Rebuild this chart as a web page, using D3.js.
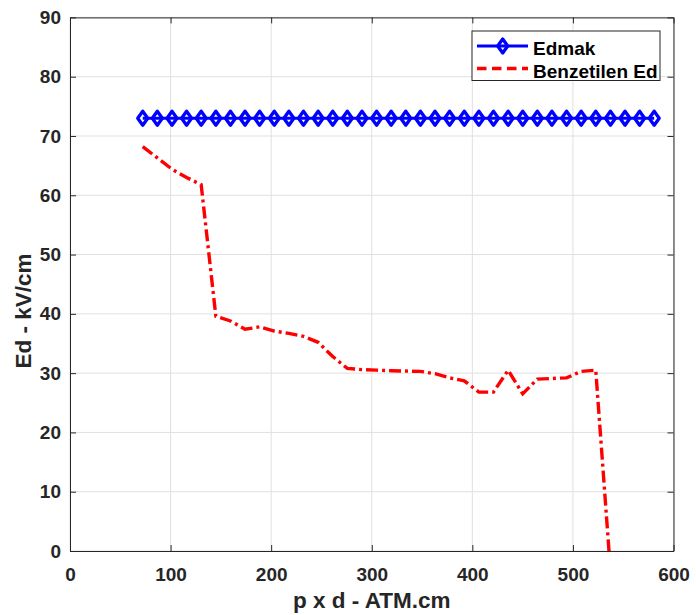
<!DOCTYPE html>
<html>
<head>
<meta charset="utf-8">
<script src="https://cdn.jsdelivr.net/npm/d3@7"></script>
<style>
  html, body { margin: 0; padding: 0; background: #fff; }
  svg { display: block; font-family: "Liberation Sans", Arial, sans-serif; }
</style>
</head>
<body>
<svg id="chart" width="696" height="615"></svg>
<script>
// ---- data ----
const pdValues = [72.3, 86.8, 101.4, 115.9, 130.4, 145.0, 159.5, 174.0, 188.5, 203.1,
  217.6, 232.1, 246.7, 261.2, 275.7, 290.3, 304.8, 319.3, 333.8, 348.4,
  362.9, 377.4, 392.0, 406.5, 421.0, 435.6, 450.1, 464.6, 479.1, 493.7,
  508.2, 522.7, 537.3, 551.8, 566.3, 580.8];
const edmak = [73, 73, 73, 73, 73, 73, 73, 73, 73, 73,
  73, 73, 73, 73, 73, 73, 73, 73, 73, 73,
  73, 73, 73, 73, 73, 73, 73, 73, 73, 73,
  73, 73, 73, 73, 73, 73];
const simPd = [72.3, 86.8, 101.4, 115.9, 130.4, 145.0, 159.5, 174.0, 188.5, 203.1,
  217.6, 232.1, 246.7, 261.2, 275.7, 290.3, 304.8, 319.3, 333.8, 348.4,
  362.9, 377.4, 392.0, 406.5, 421.0, 435.6, 450.1, 464.6, 479.1, 493.7,
  508.2, 522.7, 537.3];
const benzetilenEd = [68.2, 66.3, 64.4, 63.0, 61.8, 39.6, 38.8, 37.4, 37.8, 37.1,
  36.7, 36.2, 35.2, 32.8, 30.8, 30.6, 30.5, 30.4, 30.35, 30.3,
  29.9, 29.2, 28.7, 26.8, 26.8, 30.5, 26.5, 29.0, 29.1, 29.2,
  30.3, 30.5, -3.3];
const xTicks = [0, 100, 200, 300, 400, 500, 600];
const yTicks = [0, 10, 20, 30, 40, 50, 60, 70, 80, 90];
const seriesNames = ["Edmak", "Benzetilen Ed"];
const xTitle = "p x d - ATM.cm";
const yTitle = "Ed - kV/cm";

// ---- layout ----
const W = 696, H = 615;
const m = { left: 70, right: 22.5, top: 17.4, bottom: 64 };
const iw = W - m.left - m.right, ih = H - m.top - m.bottom;
const axisColor = "#262626", gridColor = "#e0e0e0";

const svg = d3.select("#chart");
const x = d3.scaleLinear().domain([0, 600]).range([m.left, m.left + iw]);
const y = d3.scaleLinear().domain([0, 90]).range([m.top + ih, m.top]);

svg.append("defs").append("clipPath").attr("id", "clip")
  .append("rect").attr("x", m.left).attr("y", m.top).attr("width", iw).attr("height", ih);

// grid
const grid = svg.append("g");
grid.selectAll("line.gx").data(xTicks).join("line")
  .attr("x1", d => x(d)).attr("x2", d => x(d))
  .attr("y1", m.top).attr("y2", m.top + ih)
  .attr("stroke", gridColor).attr("stroke-width", 1);
grid.selectAll("line.gy").data(yTicks).join("line")
  .attr("y1", d => y(d)).attr("y2", d => y(d))
  .attr("x1", m.left).attr("x2", m.left + iw)
  .attr("stroke", gridColor).attr("stroke-width", 1);

// axes
const tickFont = (g) => g.selectAll("text")
  .attr("font-size", 19).attr("font-weight", "bold").attr("fill", axisColor)
  .attr("font-family", "'Liberation Sans', Arial, sans-serif");

const xAxis = svg.append("g").attr("transform", `translate(0,${m.top + ih})`)
  .call(d3.axisBottom(x).tickValues(xTicks).tickFormat(d3.format("d")).tickSizeInner(-6).tickSizeOuter(0).tickPadding(17));
xAxis.call(tickFont);
xAxis.select(".domain").attr("stroke", axisColor);
xAxis.selectAll(".tick line").attr("stroke", axisColor);

const yAxis = svg.append("g").attr("transform", `translate(${m.left},0)`)
  .call(d3.axisLeft(y).tickValues(yTicks).tickFormat(d3.format("d")).tickSizeInner(-6).tickSizeOuter(0).tickPadding(9));
yAxis.call(tickFont);
yAxis.select(".domain").attr("stroke", axisColor);
yAxis.selectAll(".tick line").attr("stroke", axisColor);

const xAxisTop = svg.append("g").attr("transform", `translate(0,${m.top})`)
  .call(d3.axisTop(x).tickValues(xTicks).tickFormat("").tickSizeInner(-6).tickSizeOuter(0));
xAxisTop.selectAll("path, line").attr("stroke", axisColor);
const yAxisRight = svg.append("g").attr("transform", `translate(${m.left + iw},0)`)
  .call(d3.axisRight(y).tickValues(yTicks).tickFormat("").tickSizeInner(-6).tickSizeOuter(0));
yAxisRight.selectAll("path, line").attr("stroke", axisColor);

// axis titles
svg.append("text").attr("x", m.left + iw / 2).attr("y", 608)
  .attr("text-anchor", "middle").attr("font-size", 22.5).attr("font-weight", "bold")
  .attr("fill", axisColor).text(xTitle);
svg.append("text").attr("transform", `translate(31,311) rotate(-90)`)
  .attr("text-anchor", "middle").attr("font-size", 22.5).attr("font-weight", "bold")
  .attr("fill", axisColor).text(yTitle);

// series
const plot = svg.append("g").attr("clip-path", "url(#clip)");
const blueData = pdValues.map((d, i) => [d, edmak[i]]);
const redData = simPd.map((d, i) => [d, benzetilenEd[i]]);
const line = d3.line().x(d => x(d[0])).y(d => y(d[1]));

plot.append("path").datum(redData).attr("d", line)
  .attr("fill", "none").attr("stroke", "#ff0000").attr("stroke-width", 3.4)
  .attr("stroke-dasharray", "12,4,3,4");

plot.append("path").datum(blueData).attr("d", line)
  .attr("fill", "none").attr("stroke", "#0000ff").attr("stroke-width", 3);

const diamond = (cx, cy, hw, hh) => `M${cx},${cy - hh}L${cx + hw},${cy}L${cx},${cy + hh}L${cx - hw},${cy}Z`;
svg.append("g").selectAll("path").data(blueData).join("path")
  .attr("d", d => diamond(x(d[0]), y(d[1]), 5, 7))
  .attr("fill", "none").attr("stroke", "#0000ff").attr("stroke-width", 3.3)
  .attr("stroke-linejoin", "round");

// legend
const lg = svg.append("g");
lg.append("rect").attr("x", 472).attr("y", 31).attr("width", 188).attr("height", 49.5)
  .attr("fill", "#fff").attr("stroke", axisColor).attr("stroke-width", 1);
const row1 = 46, row2 = 68.5;
lg.append("line").attr("x1", 477).attr("x2", 528).attr("y1", row1).attr("y2", row1)
  .attr("stroke", "#0000ff").attr("stroke-width", 3);
lg.append("path").attr("d", diamond(502.7, row1, 5, 7))
  .attr("fill", "none").attr("stroke", "#0000ff").attr("stroke-width", 3.3)
  .attr("stroke-linejoin", "round");
lg.append("line").attr("x1", 477).attr("x2", 528).attr("y1", row2).attr("y2", row2)
  .attr("stroke", "#ff0000").attr("stroke-width", 3.4).attr("stroke-dasharray", "9.5,5.5");
[55, 78].forEach((by, i) => {
  lg.append("text").attr("x", 533).attr("y", by)
    .attr("font-size", 19).attr("font-weight", "bold").attr("fill", "#000")
    .text(seriesNames[i]);
});
</script>
</body>
</html>
